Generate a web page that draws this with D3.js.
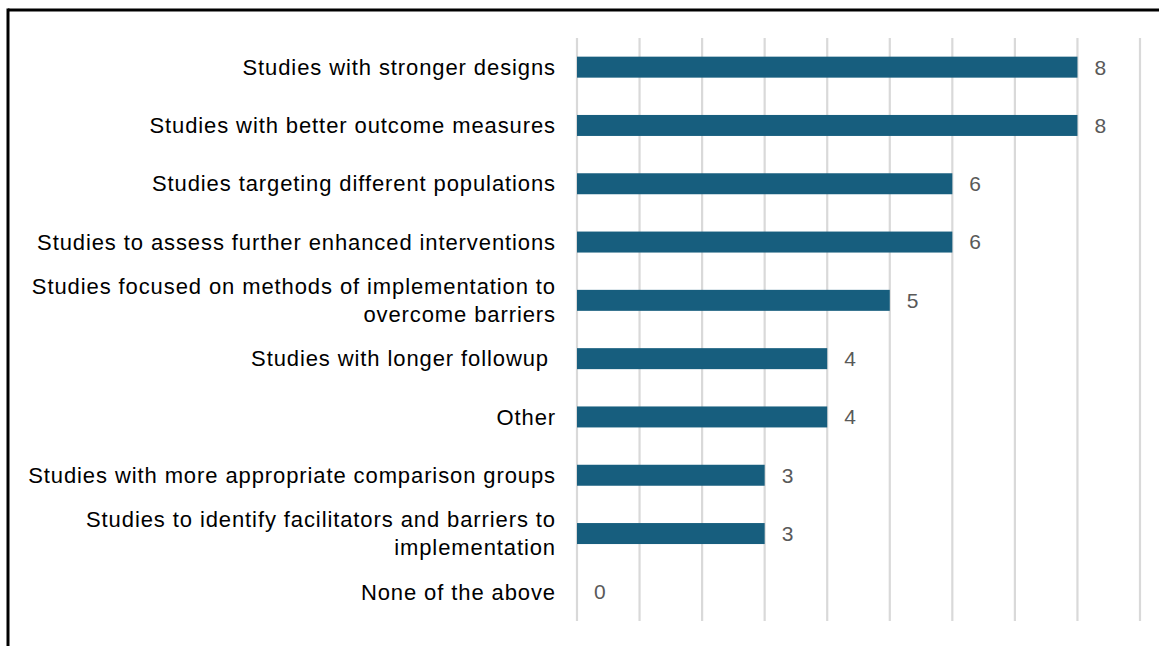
<!DOCTYPE html>
<html>
<head>
<meta charset="utf-8">
<script src="https://cdn.jsdelivr.net/npm/d3@7/dist/d3.min.js"></script>
<style>
  html, body { margin: 0; padding: 0; background: #fff; }
  svg { display: block; }
  text { font-family: "Liberation Sans", Arial, sans-serif; }
</style>
</head>
<body>
<svg id="chart" width="1159" height="646"></svg>
<script>
// Research needs, number of responses per category
const categories = [
  ["Studies with stronger designs"],
  ["Studies with better outcome measures"],
  ["Studies targeting different populations"],
  ["Studies to assess further enhanced interventions"],
  ["Studies focused on methods of implementation to", "overcome barriers"],
  ["Studies with longer followup "],
  ["Other"],
  ["Studies with more appropriate comparison groups"],
  ["Studies to identify facilitators and barriers to", "implementation"],
  ["None of the above"]
];
const counts = [8, 8, 6, 6, 5, 4, 4, 3, 3, 0];
const tickValues = [0, 1, 2, 3, 4, 5, 6, 7, 8, 9];

const svg = d3.select("#chart");
const W = 1159, H = 646;
const plot = { left: 577, right: 1140, top: 38, bottom: 621 };

// frame (top and left edges)
svg.append("line").attr("x1", 8).attr("x2", W).attr("y1", 10).attr("y2", 10)
  .attr("stroke", "#000").attr("stroke-width", 3);
svg.append("line").attr("x1", 8).attr("x2", 8).attr("y1", 8.5).attr("y2", H)
  .attr("stroke", "#000").attr("stroke-width", 3);

const x = d3.scaleLinear().domain([0, 9]).range([plot.left, plot.right]);
const idx = d3.range(categories.length);
const y = d3.scaleBand().domain(idx).range([plot.top, plot.bottom])
  .paddingInner(0.64).paddingOuter(0.32);

// vertical gridlines
svg.append("g").selectAll("line").data(tickValues).join("line")
  .attr("x1", d => x(d)).attr("x2", d => x(d))
  .attr("y1", plot.top).attr("y2", plot.bottom)
  .attr("stroke", "#d9d9d9").attr("stroke-width", 2.2);

// bars
svg.append("g").selectAll("rect").data(idx).join("rect")
  .attr("x", x(0))
  .attr("y", i => y(i))
  .attr("width", i => x(counts[i]) - x(0))
  .attr("height", y.bandwidth())
  .attr("fill", "#175e7e");

// value labels
svg.append("g").selectAll("text").data(idx).join("text")
  .attr("x", i => x(counts[i]) + 17)
  .attr("y", i => y(i) + y.bandwidth() / 2)
  .attr("dy", "0.35em")
  .attr("font-size", 21)
  .attr("letter-spacing", 0.5)
  .attr("fill", "#595959")
  .text(i => counts[i]);

// category labels
const lineGap = 28;
const labels = svg.append("g").selectAll("text").data(idx).join("text")
  .attr("text-anchor", "end")
  .attr("font-size", 22)
  .attr("letter-spacing", 0.9)
  .attr("fill", "#000")
  .style("white-space", "pre")
  .attr("transform", i => `translate(${plot.left - 21},${y(i) + y.bandwidth() / 2})`);
labels.each(function(i) {
  const lines = categories[i];
  const off = -(lines.length - 1) * lineGap / 2;
  d3.select(this).selectAll("tspan").data(lines).join("tspan")
    .attr("x", 0)
    .attr("y", (d, k) => off + k * lineGap)
    .attr("dy", "0.35em")
    .text(d => d);
});
</script>
</body>
</html>
